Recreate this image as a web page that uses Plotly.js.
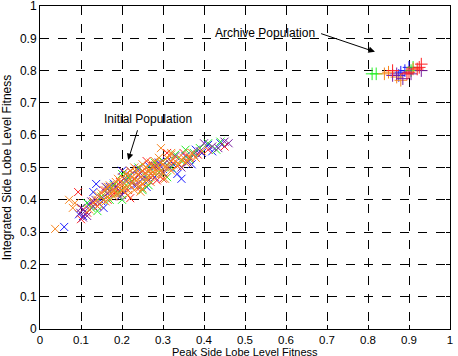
<!DOCTYPE html>
<html><head><meta charset="utf-8">
<script src="https://cdn.plot.ly/plotly-3.0.1.min.js"></script>
<style>html,body{margin:0;padding:0;background:#fff}#chart{width:458px;height:356px}</style>
</head><body><div id="chart"></div>
<script>
// Initial population (x markers): [peak SLL fitness, integrated SLL fitness]
const blueInitial = [[0.059,0.316],[0.13,0.424],[0.137,0.449],[0.095,0.355],[0.105,0.35],[0.12,0.385],[0.15,0.395],[0.165,0.42],[0.18,0.45],[0.19,0.43],[0.2,0.415],[0.21,0.46],[0.22,0.475],[0.235,0.445],[0.24,0.495],[0.25,0.465],[0.265,0.505],[0.28,0.47],[0.29,0.515],[0.30,0.495],[0.31,0.52],[0.325,0.51],[0.335,0.48],[0.345,0.465],[0.355,0.535],[0.37,0.51],[0.38,0.555],[0.395,0.545],[0.41,0.57],[0.42,0.55],[0.44,0.575],[0.2,0.49],[0.26,0.44],[0.17,0.44],[0.155,0.375]];
const redInitial = [[0.093,0.424],[0.10,0.34],[0.105,0.37],[0.115,0.36],[0.14,0.38],[0.155,0.43],[0.165,0.40],[0.18,0.42],[0.195,0.455],[0.205,0.485],[0.215,0.43],[0.23,0.465],[0.245,0.44],[0.25,0.49],[0.26,0.52],[0.27,0.48],[0.285,0.46],[0.29,0.50],[0.3,0.465],[0.31,0.545],[0.32,0.52],[0.335,0.505],[0.35,0.545],[0.365,0.53],[0.385,0.54],[0.41,0.555],[0.45,0.565],[0.19,0.43],[0.235,0.495],[0.275,0.505],[0.13,0.395],[0.22,0.405]];
const greenInitial = [[0.14,0.365],[0.115,0.39],[0.125,0.375],[0.15,0.41],[0.17,0.40],[0.18,0.445],[0.19,0.42],[0.2,0.48],[0.21,0.445],[0.225,0.455],[0.24,0.5],[0.25,0.43],[0.26,0.47],[0.27,0.495],[0.28,0.515],[0.29,0.485],[0.30,0.52],[0.31,0.47],[0.32,0.50],[0.33,0.54],[0.345,0.52],[0.355,0.555],[0.365,0.525],[0.375,0.545],[0.39,0.56],[0.41,0.575],[0.43,0.555],[0.44,0.58],[0.165,0.435],[0.215,0.47],[0.265,0.445],[0.20,0.40]];
const purpleInitial = [[0.098,0.36],[0.10,0.375],[0.105,0.345],[0.11,0.365],[0.115,0.35],[0.125,0.395],[0.13,0.38],[0.135,0.40],[0.15,0.405],[0.17,0.425],[0.185,0.44],[0.195,0.41],[0.205,0.465],[0.22,0.49],[0.23,0.445],[0.25,0.475],[0.265,0.46],[0.28,0.505],[0.29,0.51],[0.30,0.485],[0.315,0.50],[0.33,0.535],[0.345,0.50],[0.36,0.515],[0.375,0.54],[0.39,0.55],[0.40,0.575],[0.42,0.565],[0.435,0.56],[0.45,0.58],[0.46,0.575],[0.24,0.475],[0.16,0.44],[0.205,0.425]];
const orangeInitial = [[0.037,0.31],[0.071,0.40],[0.08,0.375],[0.085,0.39],[0.12,0.37],[0.13,0.39],[0.14,0.40],[0.145,0.385],[0.15,0.42],[0.155,0.40],[0.16,0.43],[0.165,0.41],[0.17,0.445],[0.175,0.42],[0.18,0.43],[0.185,0.455],[0.19,0.44],[0.195,0.42],[0.2,0.47],[0.2,0.43],[0.205,0.45],[0.21,0.48],[0.21,0.435],[0.215,0.46],[0.22,0.49],[0.22,0.445],[0.225,0.47],[0.23,0.50],[0.23,0.43],[0.235,0.46],[0.24,0.48],[0.24,0.44],[0.245,0.47],[0.25,0.51],[0.25,0.45],[0.255,0.48],[0.26,0.50],[0.26,0.46],[0.265,0.49],[0.27,0.515],[0.27,0.47],[0.275,0.50],[0.28,0.52],[0.28,0.48],[0.285,0.505],[0.29,0.53],[0.29,0.475],[0.295,0.49],[0.3,0.51],[0.3,0.48],[0.31,0.53],[0.31,0.50],[0.32,0.54],[0.32,0.49],[0.33,0.52],[0.34,0.51],[0.35,0.53],[0.36,0.52],[0.37,0.545],[0.38,0.53],[0.395,0.55],[0.295,0.56],[0.32,0.545],[0.18,0.41],[0.16,0.395],[0.19,0.465],[0.215,0.415],[0.245,0.425],[0.27,0.455],[0.305,0.465],[0.175,0.435],[0.185,0.42],[0.195,0.445],[0.205,0.435],[0.215,0.475],[0.225,0.455],[0.235,0.485],[0.245,0.455],[0.255,0.495],[0.265,0.475],[0.275,0.485],[0.285,0.49],[0.295,0.515],[0.305,0.5],[0.315,0.515],[0.325,0.525],[0.335,0.505],[0.345,0.525],[0.355,0.515],[0.365,0.535],[0.25,0.435],[0.14,0.415],[0.165,0.44]];
// Archive population (+ markers)
const blueArchive = [[0.89,0.80],[0.88,0.795],[0.875,0.785],[0.90,0.81]];
const redArchive = [[0.93,0.82],[0.925,0.81],[0.92,0.805],[0.86,0.80],[0.90,0.795],[0.895,0.79]];
const greenArchive = [[0.81,0.79],[0.82,0.79],[0.905,0.80],[0.91,0.81]];
const purpleArchive = [[0.93,0.80],[0.885,0.775],[0.86,0.785],[0.905,0.79],[0.87,0.79]];
const orangeArchive = [[0.84,0.79],[0.87,0.78],[0.85,0.795],[0.91,0.805],[0.88,0.77]];

const tickVals = [0,0.1,0.2,0.3,0.4,0.5,0.6,0.7,0.8,0.9,1];
const tickText = ['0','0.1','0.2','0.3','0.4','0.5','0.6','0.7','0.8','0.9','1'];

const C = {blue:'#1a1aff', red:'#ff2020', green:'#22ee22', purple:'#7a1fa0', orange:'#f7861f'};

function sc(pts,col,sym,size){
  return {x:pts.map(p=>p[0]),y:pts.map(p=>p[1]),type:'scatter',mode:'markers',showlegend:false,hoverinfo:'skip',
    marker:{symbol:sym,size:size,color:col,line:{color:col,width:1}}};
}
const data = [
  sc(blueInitial,C.blue,'x-thin-open',8),
  sc(redInitial,C.red,'x-thin-open',8),
  sc(greenInitial,C.green,'x-thin-open',8),
  sc(purpleInitial,C.purple,'x-thin-open',8),
  sc(orangeInitial,C.orange,'x-thin-open',8),
  sc(blueArchive,C.blue,'cross-thin-open',9),
  sc(greenArchive,C.green,'cross-thin-open',9),
  sc(orangeArchive,C.orange,'cross-thin-open',9),
  sc(purpleArchive,C.purple,'cross-thin-open',9),
  sc(redArchive,C.red,'cross-thin-open',9)
];

const axBase = {range:[0,1],showgrid:true,gridcolor:'#000',griddash:'dash',gridwidth:1,
  showline:true,linecolor:'#000',linewidth:1,mirror:'ticks',ticks:'inside',ticklen:4,tickcolor:'#000',
  zeroline:false,tickmode:'array',tickvals:tickVals,ticktext:tickText,
  tickfont:{size:12,color:'#000'},automargin:false,ticklabeloverflow:'allow'};

const layout = {
  width:458,height:356,margin:{l:40,r:8,t:6,b:27},
  paper_bgcolor:'#fff',plot_bgcolor:'#fff',
  font:{family:'Liberation Sans, Arial, sans-serif',size:12,color:'#000'},
  xaxis:Object.assign({},axBase,{tickfont:{size:11.5,color:'#000'}}),
  yaxis:Object.assign({},axBase,{title:{text:'Integrated Side Lobe Level Fitness',font:{size:12},standoff:7}}),
  annotations:[
    {x:0.5,y:-0.049,xref:'paper',yref:'paper',xanchor:'center',yanchor:'top',text:'Peak Side Lobe Level Fitness',
      showarrow:false,font:{size:11,color:'#000'},borderpad:0},
    {x:0.548,y:0.916,xref:'x',yref:'y',text:'Archive Population',showarrow:false,font:{size:12,color:'#000'}},
    {x:0.817,y:0.858,xref:'x',yref:'y',ax:0.682,ay:0.916,axref:'x',ayref:'y',text:'',showarrow:true,
      arrowhead:2,arrowsize:1.3,arrowwidth:1,arrowcolor:'#000'},
    {x:0.263,y:0.65,xref:'x',yref:'y',text:'Initial Population',showarrow:false,font:{size:12,color:'#000'}},
    {x:0.215,y:0.523,xref:'x',yref:'y',ax:0.239,ay:0.62,axref:'x',ayref:'y',text:'',showarrow:true,
      arrowhead:2,arrowsize:1.3,arrowwidth:1,arrowcolor:'#000'}
  ]
};
Plotly.newPlot('chart',data,layout,{displayModeBar:false,staticPlot:true});
</script></body></html>
